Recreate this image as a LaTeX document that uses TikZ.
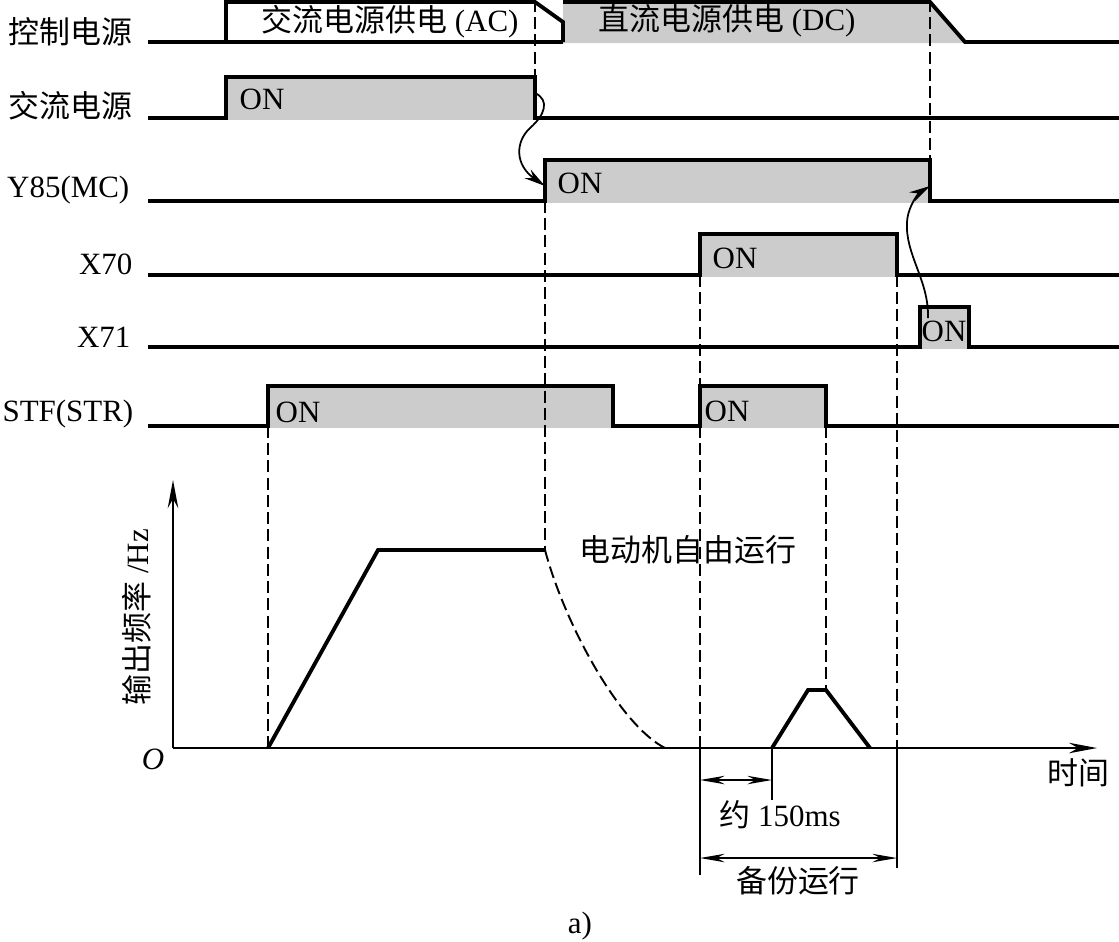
\documentclass[tikz,border=0pt]{standalone}
\usepackage{fontspec}
\setmainfont{Liberation Serif}
\newfontfamily\cjk{Noto Sans CJK SC}
\usepackage{tikz}
\usetikzlibrary{arrows.meta,positioning,calc}
\definecolor{ongrey}{RGB}{204,204,204}

\begin{document}
\begin{tikzpicture}[
			x=0.01cm, y=-0.01cm,
			font=\fontsize{8.8}{10}\selectfont,
			wave/.style={line width=1.1pt, line join=miter},
			guide/.style={line width=0.55pt, dash pattern=on 3.4pt off 1.5pt},
			thin/.style={line width=0.55pt},
			sig/.style={anchor=east, inner sep=0pt},
			onlabel/.style={anchor=west, inner sep=0pt},
			txt/.style={inner sep=0pt},
			cause/.style={-{Stealth[length=6pt,width=3pt]}, line width=0.5pt},
			dim/.style={{Stealth[length=7pt,width=2.4pt]}-{Stealth[length=7pt,width=2.4pt]}, line width=0.55pt},
			axis/.style={-{Stealth[length=8pt,width=3pt]}, line width=0.55pt}
			]
			\useasboundingbox (0,0) rectangle (1119,941);
			
			% Grey ON areas
			\fill[ongrey] (563,2) -- (930,2) -- (965,43) -- (563,43) -- cycle;
			\fill[ongrey] (226,77) rectangle (535,120);
			\fill[ongrey] (545,160) rectangle (930,203);
			\fill[ongrey] (700,234) rectangle (897,277);
			\fill[ongrey] (920,307) rectangle (969,349);
			\fill[ongrey] (268,386) rectangle (613,428);
			\fill[ongrey] (700,386) rectangle (826,428);
			
			% Signal names
			\node[sig] (sig-ctrl) at (133,32) {\cjk 控制电源};
			\node[sig] (sig-ac) at (133,106) {\cjk 交流电源};
			\node[sig] (sig-mc) at (130,190) {Y85(MC)};
			\node[sig] (sig-x70) at (133,264) {X70};
			\node[sig] (sig-x71) at (131,337) {X71};
			\node[sig] (sig-stf) at (134,414) {STF(STR)};
			
			% Waveforms
			\draw[wave] (563,42) -- (148,42);
			\draw[wave] (226,42) -- (226,2) -- (535,2) -- (563,22) -- (563,42);
			\draw[wave] (563,2) -- (930,2) -- (965,42) -- (1119,42);
			\draw[wave] (148,118) -- (226,118) -- (226,77) -- (535,77) -- (535,118) -- (1119,118);
			\draw[wave] (148,201) -- (545,201) -- (545,160) -- (930,160) -- (930,201) -- (1119,201);
			\draw[wave] (148,275) -- (700,275) -- (700,234) -- (897,234) -- (897,275) -- (1119,275);
			\draw[wave] (148,347) -- (920,347) -- (920,307) -- (969,307) -- (969,347) -- (1119,347);
			\draw[wave] (148,426) -- (268,426) -- (268,386) -- (613,386) -- (613,426) -- (700,426)
				-- (700,386) -- (826,386) -- (826,426) -- (1119,426);
			
			% Texts on the waveforms
			\node[txt] (ac-supply) at (390,22) {{\cjk 交流电源供电}\ (AC)};
			\node[txt] (dc-supply) at (727,21) {{\cjk 直流电源供电}\ (DC)};
			\node[onlabel] (on-ac) at (239,99) {ON};
			\node[onlabel] (on-mc) at (557,183) {ON};
			\node[onlabel] (on-x70) at (712,258) {ON};
			\node[onlabel] (on-x71) at (921,331) {ON};
			\node[onlabel] (on-stf1) at (275,412) {ON};
			\node[onlabel] (on-stf2) at (704,411) {ON};
			
			% Guide lines
			\draw[guide] (535,0) -- (535,77);
			\draw[guide] (930,0) -- (930,160);
			\draw[guide] (545,201) -- (545,550);
			\draw[guide] (268,426) -- (268,748);
			\draw[guide] (700,275) -- (700,386);
			\draw[guide] (700,426) -- (700,748);
			\draw[guide] (897,275) -- (897,748);
			\draw[guide] (826,426) -- (826,690);
			\draw[thin] (700,748) -- (700,875);
			\draw[thin] (897,748) -- (897,868);
			\draw[thin] (772,748) -- (772,800);
			
			% Frequency graph
			\coordinate (origin) at (173,748);
			\draw[axis] (origin) -- (173,480);
			\draw[axis] (origin) -- (1097,748);
			\node[txt] (o-label) at (153,759) {\itshape O};
			\node[txt, rotate=90] (f-label) at (137,617) {{\cjk 输出频率}\ /Hz};
			\node[txt] (t-label) at (1078,773) {\cjk 时间};
			\draw[wave] (268,748) -- (378,550) -- (545,550);
			\draw[guide] (545,550) .. controls (565,625) and (620,725) .. (665,748);
			\draw[wave] (772,748) -- (808,690) -- (826,690) -- (870,748);
			\node[txt] (free-run) at (688,550) {\cjk 电动机自由运行};
			
			% Arrows
			\coordinate (ac-off) at (535,93);
			\coordinate (ac-bend) at (530,128);
			\coordinate (mc-on) at (545,186);
			\draw[cause] (ac-off) .. controls (550,100) and (545,115) .. (ac-bend)
				.. controls (515,142) and (515,165) .. (mc-on);
			\coordinate (x71-on) at (928,318);
			\coordinate (x71-bend) at (907,222);
			\coordinate (mc-off) at (930,186);
			\draw[cause] (x71-on) .. controls (929,280) and (905,255) .. (x71-bend)
				.. controls (908,205) and (920,192) .. (mc-off);
			
			% Dimensions
			\coordinate (wait-a) at (700,780);
			\coordinate (wait-b) at (772,780);
			\coordinate (backup-a) at (700,858);
			\coordinate (backup-b) at (897,858);
			\draw[dim] (wait-a) -- (wait-b);
			\draw[dim] (backup-a) -- (backup-b);
			\node[txt] (wait-label) at (780,815) {{\cjk 约}\ 150ms};
			\node[txt] (backup-label) at (798,881) {\cjk 备份运行};
			\node[txt] (caption) at (580,926) {a)};
		\end{tikzpicture}
\end{document}
